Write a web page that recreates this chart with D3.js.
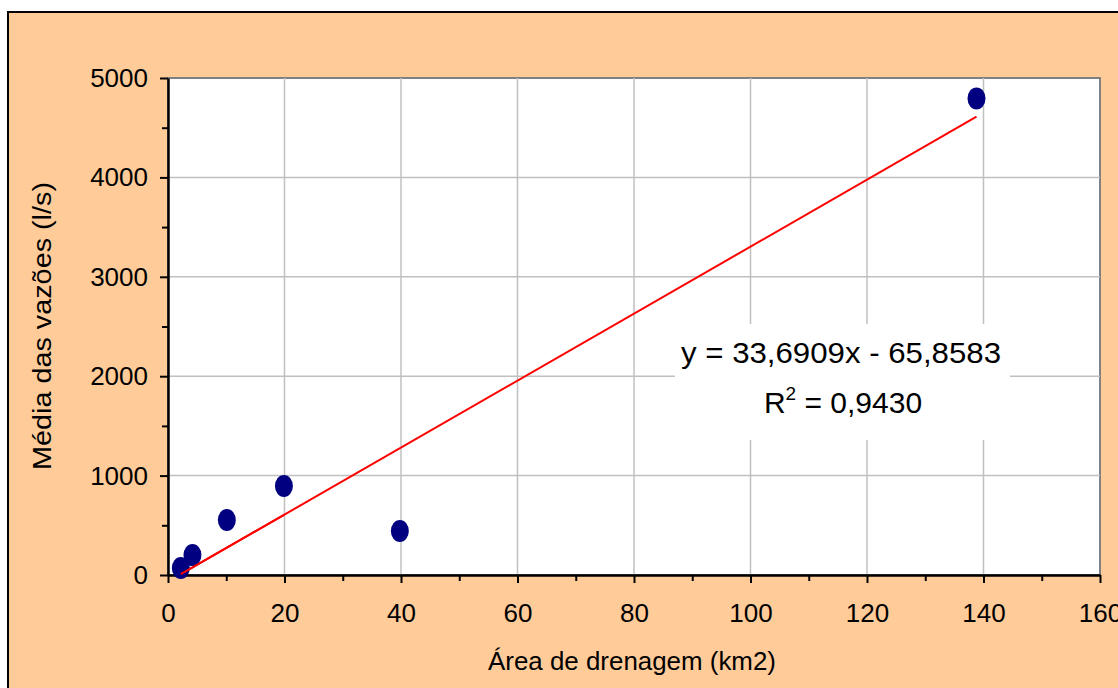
<!DOCTYPE html>
<html>
<head>
<meta charset="utf-8">
<script src="https://cdn.jsdelivr.net/npm/d3@7"></script>
<style>
  body { margin: 0; background: #fff; }
  svg text { font-family: Arial, "Liberation Sans", sans-serif; fill: #000; }
</style>
</head>
<body>
<svg width="1118" height="688"></svg>
<script>
// drainage area (km2) vs mean flow (l/s)
const area = [2.2, 4.2, 10.1, 19.9, 39.8, 138.8];
const flow = [70, 200, 553, 895, 443, 4795];
// linear trend as printed on the chart
const slope = 33.6909;
const intercept = -65.8583;
const eqText = "y = 33,6909x - 65,8583";
const r2Text = " = 0,9430";
const xTicks = [0, 20, 40, 60, 80, 100, 120, 140, 160];
const yTicks = [0, 1000, 2000, 3000, 4000, 5000];

const svg = d3.select("svg");
const W = 1118, H = 688;
const pLeft = 168, pRight = 1100, pTop = 78, pBottom = 575;

// background + outer frame
svg.append("rect").attr("x", 0).attr("y", 0).attr("width", W).attr("height", H).attr("fill", "#fff");
svg.append("rect")
  .attr("x", 8).attr("y", 12).attr("width", W + 20).attr("height", H + 20)
  .attr("fill", "#FFCC99").attr("stroke", "#000").attr("stroke-width", 2);

const x = d3.scaleLinear().domain([0, 160]).range([pLeft, pRight]);
const y = d3.scaleLinear().domain([0, 5000]).range([pBottom, pTop]);

// plot area
svg.append("rect")
  .attr("x", pLeft).attr("y", pTop).attr("width", pRight - pLeft).attr("height", pBottom - pTop)
  .attr("fill", "#fff").attr("stroke", "#808080").attr("stroke-width", 2);

// grid
svg.append("g")
  .selectAll("line")
  .data(xTicks.filter(d => d > 0 && d < 160))
  .enter().append("line")
  .attr("x1", d => x(d)).attr("x2", d => x(d))
  .attr("y1", pTop).attr("y2", pBottom)
  .attr("stroke", "#c0c0c0").attr("stroke-width", 1.5);
svg.append("g")
  .selectAll("line")
  .data(yTicks.filter(d => d > 0 && d < 5000))
  .enter().append("line")
  .attr("x1", pLeft).attr("x2", pRight)
  .attr("y1", d => y(d)).attr("y2", d => y(d))
  .attr("stroke", "#c0c0c0").attr("stroke-width", 1.5);

// minor ticks
const xMinor = svg.append("g").attr("transform", `translate(0,${pBottom})`)
  .call(d3.axisBottom(x).tickValues(d3.range(10, 160, 20)).tickSize(6).tickFormat(""));
const yMinor = svg.append("g").attr("transform", `translate(${pLeft},0)`)
  .call(d3.axisLeft(y).tickValues(d3.range(500, 5000, 1000)).tickSize(6).tickFormat(""));
[xMinor, yMinor].forEach(g => { g.select(".domain").remove(); g.selectAll("line").attr("stroke", "#000").attr("stroke-width", 2); });

// major axes
const xAxis = svg.append("g").attr("transform", `translate(0,${pBottom})`)
  .call(d3.axisBottom(x).tickValues(xTicks).tickFormat(d3.format("d")).tickSize(8).tickPadding(21).tickSizeOuter(0));
const yAxis = svg.append("g").attr("transform", `translate(${pLeft},0)`)
  .call(d3.axisLeft(y).tickValues(yTicks).tickFormat(d3.format("d")).tickSize(8).tickPadding(12).tickSizeOuter(0));
[xAxis, yAxis].forEach(g => {
  g.select(".domain").attr("stroke", "#000").attr("stroke-width", 2.5);
  g.selectAll("line").attr("stroke", "#000").attr("stroke-width", 2);
  g.selectAll("text").attr("font-size", 26).attr("fill", "#000")
    .attr("font-family", "Arial, 'Liberation Sans', sans-serif");
});
xAxis.selectAll("text").attr("dy", "0.71em");
yAxis.selectAll("text").attr("dy", "0.33em");

// equation box
const eqG = svg.append("g");
eqG.append("rect").attr("x", 675).attr("y", 324).attr("width", 335).attr("height", 116).attr("fill", "#fff");
eqG.append("text").attr("x", 841).attr("y", 363).attr("text-anchor", "middle")
  .attr("font-size", 29).attr("textLength", 320).attr("lengthAdjust", "spacingAndGlyphs").text(eqText);
const r2 = eqG.append("text").attr("x", 843).attr("y", 413).attr("text-anchor", "middle").attr("font-size", 30);
r2.append("tspan").text("R");
r2.append("tspan").attr("dy", -13).attr("font-size", 19).text("2");
r2.append("tspan").attr("dy", 13).text(r2Text);

// trend line
const xr = d3.extent(area);
svg.append("line")
  .attr("x1", x(xr[0])).attr("y1", y(slope * xr[0] + intercept))
  .attr("x2", x(xr[1])).attr("y2", y(slope * xr[1] + intercept))
  .attr("stroke", "#FF0000").attr("stroke-width", 2);

// points
svg.append("g").selectAll("ellipse")
  .data(area.map((a, i) => ({ a, f: flow[i] })))
  .enter().append("ellipse")
  .attr("cx", d => x(d.a)).attr("cy", d => y(d.f))
  .attr("rx", 9).attr("ry", 11).attr("fill", "#000080");

// redraw trend over first points like the reference
svg.append("line")
  .attr("x1", x(xr[0])).attr("y1", y(slope * xr[0] + intercept))
  .attr("x2", x(20)).attr("y2", y(slope * 20 + intercept))
  .attr("stroke", "#FF0000").attr("stroke-width", 2);

// axis titles
svg.append("text").attr("x", 632).attr("y", 670).attr("text-anchor", "middle")
  .attr("font-size", 26).attr("textLength", 288).attr("lengthAdjust", "spacingAndGlyphs")
  .text("Área de drenagem (km2)");
svg.append("text").attr("transform", "translate(51,326) rotate(-90)").attr("text-anchor", "middle")
  .attr("font-size", 26).attr("textLength", 288).attr("lengthAdjust", "spacingAndGlyphs")
  .text("Média das vazões (l/s)");
</script>
</body>
</html>
